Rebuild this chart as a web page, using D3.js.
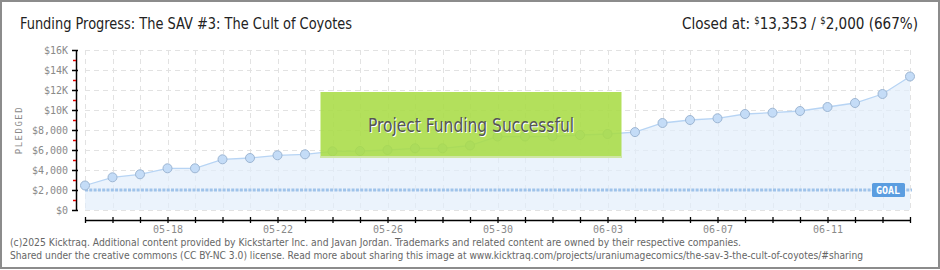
<!DOCTYPE html>
<html lang="en">
<head>
    <meta charset="UTF-8">
    <title>Funding Progress</title>
    <script src="https://cdn.jsdelivr.net/npm/d3@7"></script>
    <style>
        body { margin: 0; background: #fff; }
        svg { display: block; }
        .ylab, .xlab { font-family: "DejaVu Sans Mono", monospace; font-size: 10px; fill: #8a8a8a; }
        .foot { font-family: "DejaVu Sans Condensed", "DejaVu Sans", sans-serif; font-size: 10px; fill: #666; }
    </style>
</head>
<body>
<div id="chart"></div>
<script>
    // daily pledged totals, 05-15 .. 06-14
    const dates = ["05-15","05-16","05-17","05-18","05-19","05-20","05-21","05-22","05-23","05-24",
        "05-25","05-26","05-27","05-28","05-29","05-30","05-31","06-01","06-02","06-03",
        "06-04","06-05","06-06","06-07","06-08","06-09","06-10","06-11","06-12","06-13","06-14"];
    const pledged = [2450, 3270, 3570, 4170, 4170, 5070, 5200, 5470, 5570, 5870,
        5900, 6000, 6170, 6170, 6450, 7350, 7350, 7370, 7500, 7600,
        7790, 8700, 9000, 9170, 9600, 9730, 9900, 10300, 10700, 11600, 13353];
    const labelDates = ["05-18","05-22","05-26","05-30","06-03","06-07","06-11"];
    const majorTicks = [0, 2000, 4000, 6000, 8000, 10000, 12000, 14000, 16000];
    const majorLabels = ["$0","$2,000","$4,000","$6,000","$8,000","$10K","$12K","$14K","$16K"];
    const minorTicks = [1000, 3000, 5000, 7000, 9000, 11000, 13000, 15000];
    const goal = 2000;

    const width = 940, height = 270;
    const svg = d3.select("#chart").append("svg")
        .attr("width", width).attr("height", height);

    const x = d3.scalePoint().domain(dates).range([85, 910]);
    const y = d3.scaleLinear().domain([0, 16000]).range([210, 50]);

    // frame
    svg.append("rect").attr("x", 1).attr("y", 1).attr("width", 938).attr("height", 267)
        .attr("fill", "none").attr("stroke", "#8c8c8c").attr("stroke-width", 2);

    // title
    svg.append("text").attr("x", 20).attr("y", 29)
        .attr("font-family", "'Liberation Sans Narrow', 'DejaVu Sans Condensed', sans-serif")
        .attr("font-size", 16).attr("fill", "#222")
        .attr("textLength", 332).attr("lengthAdjust", "spacingAndGlyphs")
        .text("Funding Progress: The SAV #3: The Cult of Coyotes");

    const right = svg.append("text").attr("x", 682).attr("y", 29)
        .attr("font-family", "'Liberation Sans Narrow', 'DejaVu Sans Condensed', sans-serif")
        .attr("font-size", 16).attr("fill", "#222")
        .attr("textLength", 236).attr("lengthAdjust", "spacingAndGlyphs");
    right.append("tspan").text("Closed at:  ");
    right.append("tspan").attr("font-size", 10).attr("dy", -5).text("$");
    right.append("tspan").attr("dy", 5).text("13,353 /  ");
    right.append("tspan").attr("font-size", 10).attr("dy", -5).text("$");
    right.append("tspan").attr("dy", 5).text("2,000 (667%)");

    // grid
    const grid = svg.append("g").attr("stroke", "#e2e2e2").attr("stroke-dasharray", "5,4");
    grid.selectAll("line.h").data(majorTicks).enter().append("line")
        .attr("x1", 85).attr("x2", 911).attr("y1", d => y(d) + 0.5).attr("y2", d => y(d) + 0.5);
    grid.selectAll("line.v").data(dates).enter().append("line")
        .attr("x1", d => Math.round(x(d)) + 0.5).attr("x2", d => Math.round(x(d)) + 0.5)
        .attr("y1", 50).attr("y2", 210);

    // area + line
    const area = d3.area().x((d, i) => x(dates[i])).y0(y(0)).y1(d => y(d));
    svg.append("path").datum(pledged).attr("d", area).attr("fill", "#e3eefb").attr("opacity", 0.7);
    const line = d3.line().x((d, i) => x(dates[i])).y(d => y(d));
    svg.append("path").datum(pledged).attr("d", line)
        .attr("fill", "none").attr("stroke", "#b7d4f4").attr("stroke-width", 1.3);

    // goal line
    svg.append("line").attr("x1", 85).attr("x2", 912).attr("y1", y(goal)).attr("y2", y(goal))
        .attr("stroke", "#9fc3ea").attr("stroke-width", 3).attr("stroke-dasharray", "3,1.3");

    // points
    svg.append("g").selectAll("circle").data(pledged).enter().append("circle")
        .attr("cx", (d, i) => x(dates[i])).attr("cy", d => y(d)).attr("r", 4.5)
        .attr("fill", "#c4dcf7").attr("stroke", "#9db6d3").attr("stroke-width", 1);

    // goal label
    const gl = svg.append("g");
    gl.append("rect").attr("x", 872).attr("y", y(goal) - 7).attr("width", 33).attr("height", 14)
        .attr("rx", 1.5).attr("fill", "#5b9de0");
    gl.append("text").attr("x", 888).attr("y", y(goal) + 4).attr("text-anchor", "middle")
        .attr("font-family", "'DejaVu Sans Mono', monospace").attr("font-size", 10)
        .attr("font-weight", "bold").attr("fill", "#fff").text("GOAL");

    // y axis
    const yAxis = svg.append("g").attr("transform", "translate(76,0)")
        .call(d3.axisLeft(y).tickValues(majorTicks).tickSize(3).tickSizeOuter(0)
            .tickFormat((d, i) => majorLabels[i]));
    yAxis.select(".domain").attr("stroke", "#000").attr("stroke-width", 1.5);
    yAxis.selectAll(".tick line").attr("x1", 2).attr("x2", -4).attr("stroke", "#000").attr("stroke-width", 1.5);
    yAxis.selectAll(".tick text").attr("class", "ylab").attr("x", -8).attr("dy", "0.35em");
    svg.append("g").attr("transform", "translate(76,0)")
        .call(d3.axisLeft(y).tickValues(minorTicks).tickSize(3).tickFormat(""))
        .call(g => g.select(".domain").remove())
        .selectAll(".tick line").attr("stroke", "#e00000").attr("stroke-width", 1.5);

    svg.append("text").attr("transform", "translate(22,130) rotate(-90)")
        .attr("text-anchor", "middle").attr("font-family", "'DejaVu Sans Mono', monospace")
        .attr("font-size", 9).attr("letter-spacing", 1.5).attr("fill", "#888").text("PLEDGED");

    // x axis
    const xAxis = svg.append("g").attr("transform", "translate(0,220)")
        .call(d3.axisBottom(x).tickSize(3).tickSizeOuter(0)
            .tickFormat(d => labelDates.includes(d) ? d : ""));
    xAxis.select(".domain").attr("stroke", "#000").attr("stroke-width", 1.5);
    xAxis.selectAll(".tick line").attr("y1", -3).attr("y2", 3).attr("stroke", "#000").attr("stroke-width", 1.3);
    xAxis.selectAll(".tick text").attr("class", "xlab").attr("y", 6);

    // success banner
    const bx = x("05-24") - 12, bw = 301;
    svg.append("rect").attr("x", bx).attr("y", 92).attr("width", bw).attr("height", 66)
        .attr("fill", "#a8dc45").attr("opacity", 0.88);
    svg.append("rect").attr("x", bx).attr("y", 156).attr("width", bw).attr("height", 2)
        .attr("fill", "#cfe6a4");
    const banner = svg.append("g").attr("font-family", "'Liberation Sans Narrow', 'DejaVu Sans Condensed', sans-serif")
        .attr("font-size", 19).attr("text-anchor", "middle");
    banner.append("text").attr("x", bx + bw / 2 + 1).attr("y", 133).attr("fill", "#fff")
        .attr("textLength", 206).attr("lengthAdjust", "spacingAndGlyphs").text("Project Funding Successful");
    banner.append("text").attr("x", bx + bw / 2).attr("y", 132).attr("fill", "#555")
        .attr("textLength", 206).attr("lengthAdjust", "spacingAndGlyphs").text("Project Funding Successful");

    // footer
    svg.append("text").attr("class", "foot").attr("x", 10).attr("y", 246)
        .attr("textLength", 731).attr("lengthAdjust", "spacingAndGlyphs")
        .text("(c)2025 Kicktraq. Additional content provided by Kickstarter Inc. and Javan Jordan. Trademarks and related content are owned by their respective companies.");
    svg.append("text").attr("class", "foot").attr("x", 10).attr("y", 259)
        .attr("textLength", 853).attr("lengthAdjust", "spacingAndGlyphs")
        .text("Shared under the creative commons (CC BY-NC 3.0) license. Read more about sharing this image at www.kicktraq.com/projects/uraniumagecomics/the-sav-3-the-cult-of-coyotes/#sharing");
</script>
</body>
</html>
